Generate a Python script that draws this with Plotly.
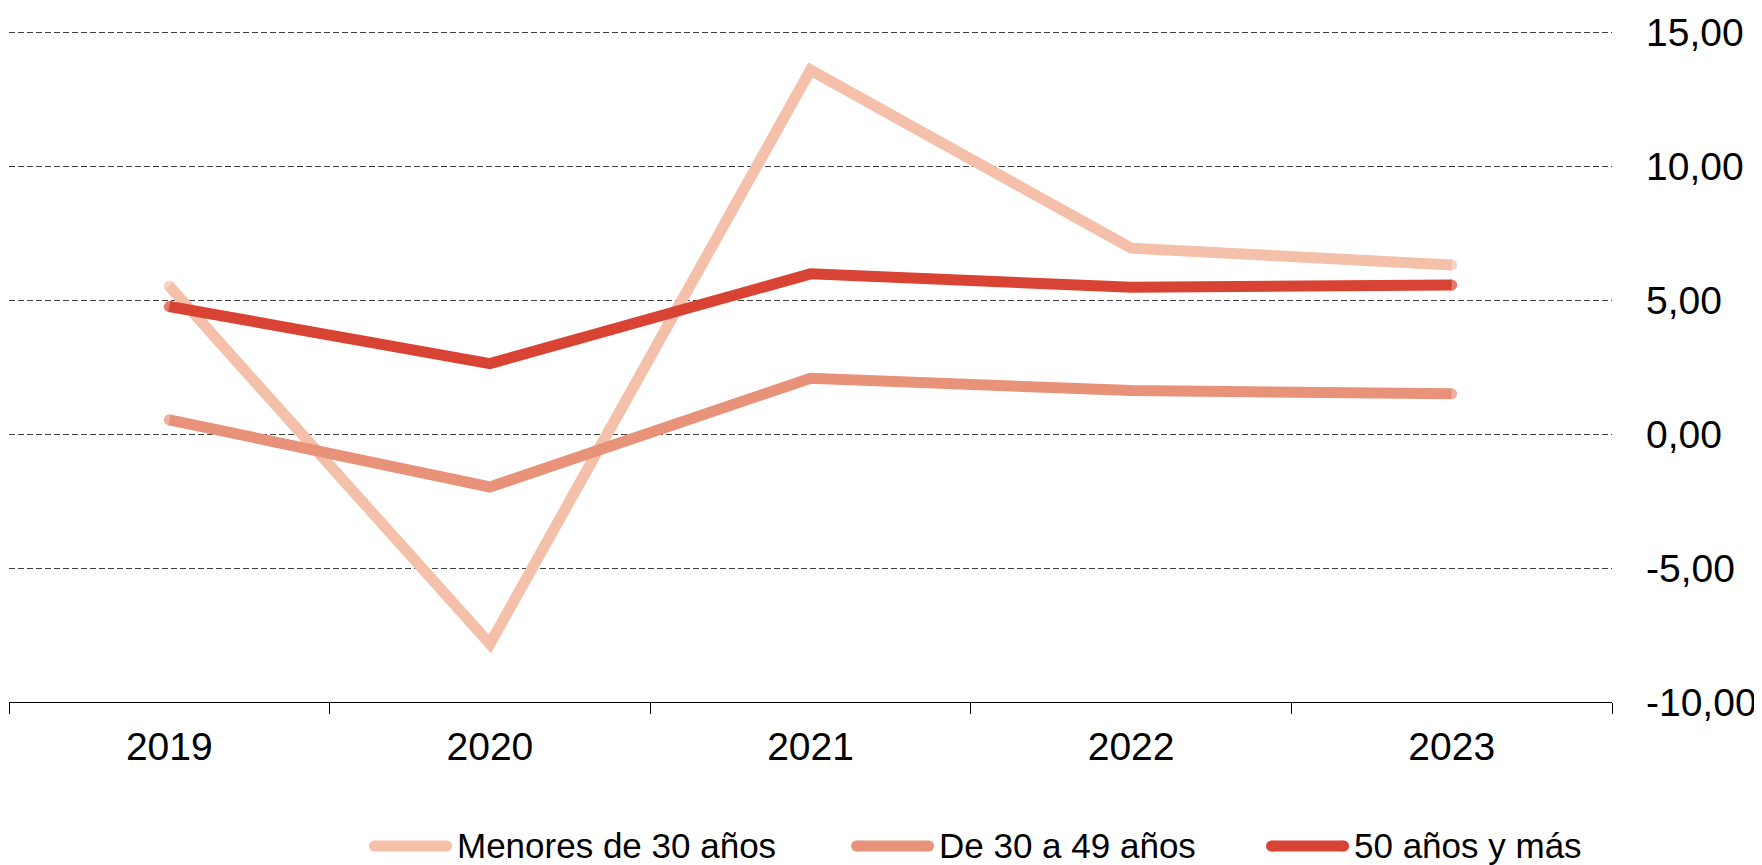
import plotly.graph_objects as go

years = ["2019", "2020", "2021", "2022", "2023"]
menores_30 = [5.53, -7.83, 13.60, 6.95, 6.32]
de_30_a_49 = [0.54, -1.97, 2.09, 1.63, 1.51]
mayores_50 = [4.77, 2.64, 5.99, 5.49, 5.57]

series_names = ["Menores de 30 años", "De 30 a 49 años", "50 años y más"]
series_colors = ["#F4C0A9", "#E8927A", "#D94333"]
y_ticks = [-10, -5, 0, 5, 10, 15]
y_labels = ["-10,00", "-5,00", "0,00", "5,00", "10,00", "15,00"]

FONT = "Liberation Sans, Arial, sans-serif"
LINE_W = 11

# legend placement (paper x of each swatch start)
legend_x = [0.2246, 0.5253, 0.7842]
legend_y = -0.2146
swatch_len = 83
swatch_h = 11

fig = go.Figure()
for name, values, color in zip(series_names, [menores_30, de_30_a_49, mayores_50], series_colors):
    n = len(values)
    fig.add_trace(
        go.Scatter(
            x=years,
            y=values,
            name=name,
            mode="lines+markers",
            line=dict(color=color, width=LINE_W),
            # round caps at both ends only
            marker=dict(
                color=color,
                size=[LINE_W if i in (0, n - 1) else 0 for i in range(n)],
                line=dict(width=0),
            ),
            showlegend=False,
        )
    )

# hand-made legend: rounded swatches + labels
r = swatch_h / 2
for lx, name, color in zip(legend_x, series_names, series_colors):
    common = dict(
        xref="paper",
        yref="paper",
        xsizemode="pixel",
        ysizemode="pixel",
        xanchor=lx,
        yanchor=legend_y,
        fillcolor=color,
        line=dict(width=0),
        layer="above",
    )
    fig.add_shape(type="rect", x0=r, x1=swatch_len - r, y0=-r, y1=r, **common)
    fig.add_shape(type="circle", x0=0, x1=2 * r, y0=-r, y1=r, **common)
    fig.add_shape(type="circle", x0=swatch_len - 2 * r, x1=swatch_len, y0=-r, y1=r, **common)
    fig.add_annotation(
        text=name,
        xref="paper",
        yref="paper",
        x=lx,
        y=legend_y,
        xanchor="left",
        yanchor="middle",
        xshift=swatch_len + 3,
        showarrow=False,
        font=dict(size=35, color="#000000"),
    )

fig.update_layout(
    width=1762,
    height=865,
    margin=dict(l=1, r=158, t=23, b=171),
    paper_bgcolor="white",
    plot_bgcolor="white",
    font=dict(family=FONT, size=36, color="#000000"),
    showlegend=False,
    xaxis=dict(
        type="category",
        range=[-0.5, 4.5],
        showgrid=False,
        showline=True,
        linecolor="#000000",
        linewidth=1,
        ticks="outside",
        tickson="boundaries",
        ticklen=11,
        tickcolor="#000000",
        tickfont=dict(size=39),
        ticklabelstandoff=10,
        zeroline=False,
        automargin=False,
    ),
    yaxis=dict(
        side="right",
        range=[-10, 15.06],
        tickvals=y_ticks,
        ticktext=y_labels,
        showgrid=True,
        gridcolor="#404040",
        gridwidth=1,
        griddash="6px,3px",
        showline=False,
        zeroline=False,
        ticks="",
        ticklabelstandoff=33,
        tickfont=dict(size=39),
        automargin=False,
    ),
)

fig.write_html("out.html")
